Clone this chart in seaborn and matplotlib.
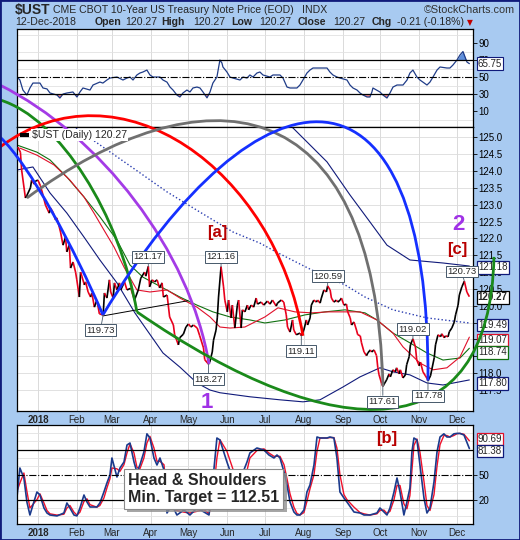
import matplotlib
matplotlib.use("Agg")
import matplotlib.pyplot as plt
import matplotlib.patheffects as pe
from matplotlib.collections import LineCollection
from matplotlib.path import Path
from matplotlib.patches import PathPatch, Rectangle
import numpy as np
import pandas as pd
import seaborn as sns

# all x values are days counted from 1 Jan 2018
close_pts = [(-16, 124.71), (-14, 124.56), (-13, 124.03), (-10, 123.20), (-9, 123.26), (-6, 123.50), (-5, 123.73),
             (-3, 123.61), (-2, 123.70), (0, 123.73), (2, 123.56), (4, 123.29), (6, 122.99), (9, 122.75), (10, 122.90),
             (12, 122.78), (14, 122.55), (15, 122.61), (17, 122.34), (18, 122.19), (20, 121.80), (22, 122.04),
             (23, 121.60), (25, 121.80), (26, 121.12), (28, 121.30), (30, 121.00), (31, 120.77), (33, 120.26),
             (34, 121.00), (35, 120.88), (37, 120.62), (38, 120.71), (40, 120.41), (42, 120.26), (43, 120.38),
             (45, 119.96), (47, 120.17), (49, 119.76), (52, 119.73), (53, 120.38), (55, 120.23), (57, 120.77),
             (58, 120.41), (60, 120.23), (61, 120.68), (63, 120.47), (65, 120.68), (66, 120.47), (69, 120.71),
             (71, 120.47), (74, 120.52), (77, 120.17), (80, 120.47), (82, 120.82), (85, 121.00), (86, 120.88),
             (88, 121.17), (89, 120.56), (91, 120.77), (93, 120.71), (95, 120.77), (97, 120.53), (99, 120.68),
             (100, 120.26), (103, 120.32), (105, 119.67), (108, 119.43), (109, 119.14), (112, 118.84), (113, 119.05),
             (116, 119.16), (118, 119.37), (120, 119.46), (122, 119.37), (124, 119.43), (127, 119.34), (129, 119.11),
             (132, 118.75), (133, 118.40), (136, 118.27), (137, 118.33), (139, 118.63), (140, 118.98), (142, 119.28),
             (143, 119.64), (144, 120.26), (146, 121.16), (148, 120.56), (149, 120.17), (151, 119.82), (152, 120.17),
             (154, 119.64), (155, 120.02), (157, 119.34), (159, 120.02), (160, 120.17), (162, 119.34), (163, 119.88),
             (165, 119.82), (167, 120.02), (168, 119.88), (170, 120.02), (172, 119.96), (174, 120.23), (175, 120.05),
             (178, 120.11), (180, 120.02), (183, 120.14), (185, 120.05), (187, 120.17), (190, 119.99), (191, 120.08),
             (194, 120.17), (196, 120.11), (198, 119.73), (199, 119.37), (201, 119.22), (203, 119.58), (204, 119.28),
             (206, 119.14), (209, 119.19), (210, 119.11), (212, 119.28), (214, 119.58), (215, 119.43), (217, 119.64),
             (218, 120.02), (220, 120.17), (222, 120.11), (223, 120.17), (225, 120.08), (226, 120.23), (228, 120.47),
             (230, 120.41), (231, 120.59), (233, 120.47), (234, 120.23), (236, 120.11), (238, 120.17), (239, 120.11),
             (241, 120.17), (242, 120.23), (244, 120.02), (246, 120.05), (247, 119.82), (249, 119.64), (250, 119.43),
             (252, 119.52), (254, 119.28), (255, 119.14), (257, 119.11), (258, 118.90), (260, 118.63), (262, 118.52),
             (263, 118.60), (265, 118.69), (266, 118.63), (268, 118.69), (270, 118.52), (271, 118.16), (272, 117.95),
             (274, 117.70), (275, 117.61), (278, 117.80), (280, 117.98), (281, 117.89), (283, 118.10), (285, 118.04),
             (286, 118.16), (288, 117.98), (289, 118.10), (291, 117.86), (293, 117.95), (294, 118.25), (296, 118.49),
             (297, 118.84), (299, 119.02), (301, 118.78), (302, 118.40), (304, 118.22), (305, 118.33), (307, 118.04),
             (309, 117.92), (310, 117.86), (311, 117.78), (313, 117.92), (314, 118.10), (316, 118.46), (317, 118.84),
             (319, 119.14), (321, 119.08), (322, 119.17), (324, 119.05), (325, 119.11), (327, 119.08), (328, 119.23),
             (330, 119.34), (332, 119.52), (333, 119.73), (335, 120.02), (336, 120.32), (338, 120.56), (340, 120.73),
             (342, 120.41), (344, 120.27)]
swing_highs = [88, 146, 231, 299, 340]
swing_lows = [52, 136, 210, 275, 311]

ma_red = [(-14.4, 124.68), (-0.8, 124.47), (12.8, 124.18), (25.5, 123.73), (36.7, 123.23), (44.7, 122.75),
          (52.6, 122.25), (60.6, 121.75), (68.6, 121.15), (78.9, 120.47), (89.3, 120.41), (102.9, 120.47),
          (113.2, 120.23), (126.8, 119.96), (137.2, 119.67), (145.1, 119.37), (153.1, 119.34), (165.0, 119.37),
          (181.0, 119.67), (191.4, 119.94), (204.9, 119.82), (218.5, 119.79), (231.2, 119.82), (244.8, 119.82),
          (256.8, 119.82), (270.3, 119.58), (283.1, 119.19), (291.1, 118.78), (304.6, 118.30), (315.0, 118.10),
          (326.1, 118.16), (336.5, 118.48), (344.0, 119.07)]
ma_green = [(-16.7, 124.77), (-0.8, 124.56), (9.6, 124.33), (23.1, 123.82), (36.7, 123.23), (49.4, 122.64),
            (63.0, 121.95), (73.4, 121.21), (83.7, 120.85), (99.7, 120.53), (113.2, 120.26), (126.8, 120.02),
            (139.5, 119.82), (153.1, 119.67), (169.0, 119.58), (181.0, 119.49), (197.0, 119.58), (212.9, 119.73),
            (228.9, 119.82), (244.8, 119.88), (260.8, 119.79), (270.3, 119.58), (283.1, 119.19), (296.6, 118.90),
            (310.2, 118.60), (323.0, 118.39), (336.5, 118.45), (344.0, 118.74)]
band_low = [(-16.7, 124.03), (-4.0, 124.12), (9.6, 123.35), (23.1, 122.75), (36.7, 122.04), (49.4, 121.36),
            (63.0, 120.68), (77.3, 119.79), (99.7, 118.60), (113.2, 118.18), (126.8, 117.71), (137.2, 117.50),
            (145.1, 117.42), (169.0, 117.30), (193.0, 117.21), (211.3, 117.15), (224.9, 117.21), (243.2, 117.59),
            (256.8, 117.89), (272.7, 118.16), (283.1, 118.04), (296.6, 117.95), (310.2, 117.71), (323.0, 117.65),
            (344.0, 117.80)]
band_up = [(189.0, 125.57), (203.3, 125.28), (230.5, 124.27), (248.8, 123.29), (264.7, 122.49), (278.3, 121.80),
           (296.6, 121.36), (323.0, 121.27), (344.0, 121.18)]
ma_dotted = [(25.5, 125.39), (41.5, 124.98), (75.8, 124.09), (102.9, 123.38), (129.2, 122.78), (155.5, 122.19),
             (177.0, 121.86), (191.4, 121.57), (218.5, 121.06), (244.8, 120.62), (260.8, 120.26), (283.1, 119.88),
             (310.2, 119.64), (344.0, 119.49)]

# cycle arcs: start, two control points, end (cubic curves)
arcs = {
    "#a43be6": [(-30.3, 126.55), (49.4, 125.07), (121.2, 121.66), (136.4, 118.27)],
    "#1a8a1a": [(-30.3, 126.11), (17.5, 125.57), (65.4, 122.69), (78.9, 119.82)],
    "#ff0000": [(-30.3, 124.71), (65.4, 127.35), (189.0, 124.03), (211.3, 119.11)],
    "#707070": [(-8.8, 123.20), (129.2, 126.99), (268.7, 126.70), (275.1, 117.62)],
    "#1530ff": [(-30.3, 125.01), (-6.4, 124.18), (29.5, 121.66), (51.8, 119.73)],
}
arc_blue2 = [(51.8, 119.73), (177.0, 127.47), (312.6, 127.89), (311.0, 117.78)]
arc_bowl = [(78.9, 119.82), (238.4, 115.72), (360.4, 115.72), (363.6, 121.45)]
neckline = [(51.8, 119.70), (119.6, 120.15)]

rsi_pts = [(-16.7, 50), (-14.4, 46.5), (-12.0, 34.7), (-8.8, 28.8), (-6.4, 37.1), (-4.0, 42.9), (1.6, 42.9),
           (4.0, 37.1), (7.2, 36), (9.6, 31.2), (15.2, 28.8), (17.5, 25.3), (20.0, 30), (23.1, 31.2), (27.9, 32.4),
           (31.1, 26.5), (33.5, 32.4), (35.9, 37.1), (41.5, 34.7), (43.9, 40.6), (49.4, 44.1), (51.8, 42.9),
           (55.0, 46.5), (57.4, 48.8), (63.0, 50), (67.8, 46.5), (71.0, 48.8), (73.4, 50), (75.8, 46.5), (78.9, 52.4),
           (81.3, 54.7), (83.7, 55.9), (86.9, 58.2), (89.3, 52.4), (91.7, 50), (97.3, 50), (99.7, 46.5), (102.9, 44),
           (105.3, 38.2), (107.7, 34.7), (110.8, 28.8), (113.2, 26.5), (115.6, 31.2), (118.8, 34.7), (121.2, 32.4),
           (123.6, 37.1), (126.8, 38.2), (129.2, 37.1), (131.6, 32.4), (134.8, 25.5), (137.2, 32.4), (139.5, 42.9),
           (142.7, 50), (145.1, 70), (146.7, 66.5), (147.5, 61.8), (150.7, 55.9), (153.1, 50), (155.5, 48.8),
           (161.1, 46.5), (163.5, 50), (166.7, 48.8), (169.0, 52.4), (171.5, 50), (174.6, 54.7), (177.0, 55.9),
           (179.4, 52.4), (185.0, 50), (187.4, 52.4), (193.0, 52.4), (195.4, 48.8), (198.6, 38.2), (201.0, 37.1),
           (206.5, 37.1), (208.9, 40.6), (211.3, 46.5), (214.5, 54.7), (216.9, 58.2), (219.3, 60.6), (224.9, 60.6),
           (230.5, 60.6), (232.8, 55.9), (235.2, 52.4), (238.4, 50), (240.8, 48.8), (246.4, 46.5), (248.8, 40.6),
           (251.2, 37.1), (254.4, 34.7), (256.8, 31.2), (259.2, 28.8), (262.4, 26.5), (264.7, 26.5), (266.3, 32.4),
           (267.1, 37.1), (272.7, 32.4), (275.1, 28.8), (278.3, 25.3), (280.7, 31.2), (283.1, 38.2), (286.3, 40.6),
           (291.1, 40.6), (294.3, 46.5), (296.6, 54.7), (299.0, 58.2), (302.2, 50), (304.6, 46.5), (310.2, 40.6),
           (312.6, 44.1), (315.0, 50), (318.2, 58.2), (320.6, 61.8), (326.1, 60.6), (328.5, 60.6), (330.9, 64.1),
           (334.1, 70), (336.5, 75.9), (338.9, 80), (342.1, 67.6), (344.0, 65.75)]

sto_day = [-16.7, -14.4, -11.2, -8.8, -6.4, -0.8, 1.6, 4.8, 7.2, 9.6, 15.2, 20.7, 23.1, 25.5, 28.7, 31.1, 33.5,
           36.7, 39.1, 41.5, 47.0, 49.4, 52.6, 55.0, 57.4, 59.0, 63.0, 65.4, 68.6, 71.0, 73.4, 76.6, 78.9, 81.3,
           84.5, 86.9, 89.3, 92.5, 94.9, 97.3, 100.5, 102.9, 106.9, 110.8, 116.4, 121.2, 126.8, 132.4, 136.4,
           139.5, 142.7, 145.1, 150.7, 156.3, 161.1, 166.7, 169.0, 174.6, 180.2, 184.2, 188.2, 190.6, 193.0,
           196.2, 198.6, 201.0, 204.1, 206.5, 208.9, 212.1, 214.5, 216.9, 220.1, 222.5, 224.9, 230.5, 232.8,
           236.0, 238.4, 240.8, 244.0, 246.4, 252.0, 256.8, 260.0, 264.7, 270.3, 272.7, 275.9, 278.3, 280.7,
           283.9, 286.3, 288.7, 291.8, 294.2, 296.6, 298.2, 299.8, 302.2, 304.6, 307.8, 310.2, 312.6, 315.8,
           318.2, 320.6, 323.7, 326.1, 328.5, 331.7, 334.1, 336.5, 339.7, 344.0]
sto_k = [23.2, 58, 46, 17.2, 1.6, 29.2, 25.6, 10, 4, 1.6, 0.5, 4, 16, 10, 1.6, 0.5, 10, 25.6, 17.2, 11.2, 11.2, 16,
         29.2, 40, 49.6, 70, 47.2, 58, 65.2, 85.6, 88, 65.2, 53.2, 61.6, 77.2, 99, 94, 70, 61.6, 70, 55.6, 4, 13.6,
         1.6, 7.6, 1.6, 10, 5.2, 1.6, 43.6, 94, 91.6, 65.2, 41.2, 43.6, 65.2, 76, 82, 79.6, 73.6, 70, 73.6, 70, 53.2,
         37.6, 17.2, 5.2, 1.6, 1.6, 7.6, 29.2, 37.6, 61.6, 95.2, 94, 94, 95.2, 94, 70, 29.2, 22, 17.2, 5.2, 4, 1.6,
         1.6, 4, 10, 5.2, 1.6, 10, 29.2, 46, 29.2, 1.6, 17.2, 34, 77.2, 94, 91.6, 61.6, 22, 4, 10, 41.2, 77.2, 95.2,
         99, 95.2, 95.2, 99, 99.5, 99.5, 97.6, 81.38]
sto_d = [30, 40, 52, 30, 10, 20, 27, 16, 7, 3, 1.5, 2.5, 10, 13, 5, 1.5, 5, 18, 21, 14, 11, 13, 22, 34, 45, 58, 57,
         54, 62, 76, 87, 76, 59, 57, 70, 88, 96, 82, 66, 66, 62, 25, 9, 7, 5, 4, 6, 8, 3, 22, 70, 92, 78, 53, 43, 55,
         70, 79, 81, 76, 72, 72, 72, 62, 45, 27, 11, 3.5, 1.6, 4.5, 18, 33, 50, 78, 94, 94, 94.5, 94.5, 82, 50, 26,
         20, 11, 4.5, 3, 1.6, 3, 7, 7.5, 3.5, 6, 20, 37, 37, 15, 9, 25, 55, 85, 92.8, 77, 42, 13, 7, 26, 60, 86, 97,
         97, 95.2, 97, 99.2, 99.5, 98.5, 90.69]

month_start = pd.date_range("2018-01-01", "2018-12-01", freq="MS")
month_days = list((month_start - pd.Timestamp("2018-01-01")).days)
month_names = ["2018"] + [m.strftime("%b") for m in month_start[1:]]

BG = "#a8caf1"
NAVY = "#101a7a"
sns.set_style("white")
plt.rcParams["font.family"] = ["Liberation Sans", "DejaVu Sans"]

W, H = 520, 540
fig = plt.figure(figsize=(W / 100, H / 100), dpi=100, facecolor=BG)
L, R = 17 / W, 473 / W


def panel(top, bottom):
    return fig.add_axes([L, 1 - bottom / H, R - L, (bottom - top) / H])


def ftext(x, y, s, **kw):
    return fig.text(x / W, 1 - y / H, s, va="baseline", **kw)


ax_r = panel(29, 127)
ax_p = panel(127, 411)
ax_s = panel(425, 524)
xlim = (-16.7, 346.9)

for ax in (ax_r, ax_p, ax_s):
    ax.set_facecolor("white")
    ax.set_xlim(*xlim)
    ax.set_xticks(month_days)
    ax.grid(True, axis="x", color="#d4d4d4", lw=0.6)
    ax.yaxis.tick_right()
    ax.tick_params(axis="y", which="major", length=3, width=0.6, pad=1, labelsize=7, colors="black")
    ax.tick_params(axis="x", length=0, labelsize=7, pad=3)
    for sp in ax.spines.values():
        sp.set_color("black")
        sp.set_linewidth(0.9)

# ---- RSI panel
rd, rv = zip(*rsi_pts)
rd, rv = np.array(rd), np.array(rv)
ax_r.fill_between(rd, rv, 70, where=rv > 70, interpolate=True, color="#5f8fdc", lw=0)
ax_r.fill_between(rd, rv, 30, where=rv < 30, interpolate=True, color="#f08a8a", lw=0)
sns.lineplot(x=rd, y=rv, ax=ax_r, color="#1f3c88", linewidth=0.9, sort=False, estimator=None)
for lvl in (70, 30):
    ax_r.axhline(lvl, color="black", lw=0.9)
ax_r.axhline(50, color="black", lw=0.8, ls="-.")
ax_r.set_ylim(-8.8, 106.5)
ax_r.set_yticks([10, 30, 50, 70, 90])
ax_r.set_yticks(range(0, 101, 10), minor=True)
ax_r.grid(True, axis="y", which="minor", color="#e2e2e2", lw=0.6)
ax_r.tick_params(axis="y", which="minor", length=0)
ax_r.set_xticklabels([])
ax_r.annotate(f"{rv[-1]:.2f}", xy=(1, rv[-1]), xycoords=ax_r.get_yaxis_transform(), xytext=(3.5, 0),
              textcoords="offset points", ha="left", va="center", fontsize=7,
              bbox=dict(boxstyle="square,pad=0.12", fc="white", ec=NAVY, lw=0.8))

# ---- price panel
cd, cv = zip(*close_pts)
cd, cv = np.array(cd, float), np.array(cv)
close_at = dict(close_pts)
segs = np.stack([np.column_stack([cd[:-1], cv[:-1]]), np.column_stack([cd[1:], cv[1:]])], axis=1)
seg_col = np.where(np.diff(cv) >= 0, "black", "#e8001c")

for pts, col, ls, lw in [(band_up, NAVY, "-", 0.8), (band_low, NAVY, "-", 0.8), (ma_dotted, "#2a3db0", ":", 1.0),
                         (ma_green, "#107010", "-", 0.8), (ma_red, "#e0102a", "-", 0.8)]:
    xs, ys = zip(*pts)
    sns.lineplot(x=list(xs), y=list(ys), ax=ax_p, color=col, linewidth=lw, linestyle=ls, sort=False,
                 estimator=None)
ax_p.add_collection(LineCollection(segs, colors=seg_col, linewidths=1.2, zorder=4))
nx, ny = zip(*neckline)
ax_p.plot(nx, ny, color="black", lw=0.7, zorder=4)

ax_p.set_ylim(116.878, 125.306)
ticks = np.arange(117.5, 125.01, 0.5)
ax_p.set_yticks(ticks)
ax_p.set_yticklabels([f"{t:.1f}" for t in ticks])
ax_p.grid(True, axis="y", color="#dcdcdc", lw=0.6)
ax_p.set_xticklabels(month_names)
ax_p.get_xticklabels()[0].set_fontweight("bold")
ax_p.set_xlabel("")
ax_p.set_ylabel("")


def curve(pts, color, lw=2.0):
    path = Path(pts, [Path.MOVETO, Path.CURVE4, Path.CURVE4, Path.CURVE4])
    ax_p.add_patch(PathPatch(path, fill=False, ec=color, lw=lw, clip_on=False, zorder=6,
                             capstyle="butt", transform=ax_p.transData))


for col, pts in arcs.items():
    curve(pts, col)
curve(arc_blue2, "#1530ff")
curve(arc_bowl, "#1a8a1a")

lab_box = dict(boxstyle="square,pad=0.15", fc="white", ec="#46586a", lw=0.7)
for d in swing_highs:
    dx = -2 if d == 340 else 0
    ax_p.annotate(f"{close_at[d]:.2f}", xy=(d, close_at[d]), xytext=(dx, 7), textcoords="offset points",
                  ha="center", va="center", fontsize=6.8, bbox=lab_box, zorder=7,
                  arrowprops=dict(arrowstyle="-", color="#46586a", lw=0.6, shrinkA=0, shrinkB=0))
for d in swing_lows:
    dx = -2 if d == 52 else 0
    ax_p.annotate(f"{close_at[d]:.2f}", xy=(d, close_at[d]), xytext=(dx, -11), textcoords="offset points",
                  ha="center", va="center", fontsize=6.8, bbox=lab_box, zorder=7,
                  arrowprops=dict(arrowstyle="-", color="#46586a", lw=0.6, shrinkA=0, shrinkB=0))

tags = [(band_up[-1][1], NAVY, "normal", -1), (cv[-1], "black", "bold", -0.5), (ma_dotted[-1][1], NAVY, "normal", -1.5),
        (ma_red[-1][1], "#e0102a", "normal", -2), (ma_green[-1][1], "#107010", "normal", -3),
        (band_low[-1][1], NAVY, "normal", -2.5)]
for val, col, fw, dy in tags:
    ax_p.annotate(f"{val:.2f}", xy=(1, val), xycoords=ax_p.get_yaxis_transform(), xytext=(3.5, dy),
                  textcoords="offset points", ha="left", va="center", fontsize=7, fontweight=fw, zorder=5,
                  bbox=dict(boxstyle="square,pad=0.12", fc="white", ec=col, lw=0.9))

ax_p.plot([0.007, 0.026], [0.973, 0.973], transform=ax_p.transAxes, color="black", lw=3, zorder=8,
          solid_capstyle="butt")
ax_p.text(0.033, 0.973, f"$UST (Daily) {cv[-1]:.2f}", transform=ax_p.transAxes, fontsize=7.6, va="center",
          ha="left", zorder=8, bbox=dict(boxstyle="square,pad=0.1", fc="white", ec="none"))
ax_p.text(142.7, 122.19, "[a]", color="#b80000", fontsize=12, fontweight="bold", ha="center", va="center", zorder=8)
ax_p.text(334.1, 121.66, "[c]", color="#b80000", fontsize=12, fontweight="bold", ha="center", va="center", zorder=8)
ax_p.text(334.9, 122.40, "2", color="#a032e6", fontsize=16, fontweight="bold", ha="center", va="center", zorder=8)
ax_p.text(134.8, 117.12, "1", color="#a032e6", fontsize=16, fontweight="bold", ha="center", va="center", zorder=8,
          clip_on=False)

# ---- stochastic panel
sns.lineplot(x=sto_day, y=sto_d, ax=ax_s, color="#f0102a", linewidth=1.0, sort=False, estimator=None)
sns.lineplot(x=sto_day, y=sto_k, ax=ax_s, color="#1b3a8c", linewidth=1.2, sort=False, estimator=None)
for lvl in (80, 20):
    ax_s.axhline(lvl, color="black", lw=0.9)
ax_s.axhline(50, color="black", lw=0.8, ls="-.")
ax_s.set_ylim(-9.2, 109.6)
ax_s.set_yticks([20, 50])
ax_s.set_yticks(range(0, 101, 10), minor=True)
ax_s.grid(True, axis="y", which="minor", color="#e2e2e2", lw=0.6)
ax_s.tick_params(axis="y", which="minor", length=0)
ax_s.set_xticklabels(month_names)
ax_s.get_xticklabels()[0].set_fontweight("bold")
ax_s.set_xlabel("")
ax_s.set_ylabel("")
ax_s.text(278.3, 94, "[b]", color="#b80000", fontsize=12, fontweight="bold", ha="center", va="center")
for val, col, dy in [(sto_d[-1], "#e0102a", 1.5), (sto_k[-1], NAVY, -1.5)]:
    ax_s.annotate(f"{val:.2f}", xy=(1, val), xycoords=ax_s.get_yaxis_transform(), xytext=(3.5, dy),
                  textcoords="offset points", ha="left", va="center", fontsize=7, zorder=5,
                  bbox=dict(boxstyle="square,pad=0.1", fc="white", ec=col, lw=0.9))

hs = fig.text(128 / W, 1 - 489 / H, "Head & Shoulders\nMin. Target = 112.51", fontsize=11.5, fontweight="bold",
              ha="left", va="center", linespacing=1.1,
              bbox=dict(boxstyle="square,pad=0.25", fc="white", ec="#8a8a8a", lw=0.8))
hs.get_bbox_patch().set_path_effects([pe.withSimplePatchShadow(offset=(2.5, -2.5), shadow_rgbFace="#909090",
                                                                alpha=0.8)])

# ---- header
ftext(15, 14, "$UST", fontsize=10, fontweight="bold")
ftext(53, 13, "CME CBOT 10-Year US Treasury Note Price (EOD)", fontsize=7.6)
ftext(302, 13, "INDX", fontsize=7.6)
ftext(515, 13, "\u00a9StockCharts.com", fontsize=7.8, ha="right", color="#333333")
ftext(15, 25, "12-Dec-2018", fontsize=7.6)
last = f"{cv[-1]:.2f}"
for x, s, fw in [(95, "Open", "bold"), (125, last, "normal"), (161, "High", "bold"), (193, last, "normal"),
                 (231, "Low", "bold"), (259, last, "normal"), (298, "Close", "bold"), (333, last, "normal"),
                 (372, "Chg", "bold"), (397, "-0.21 (-0.18%)", "normal")]:
    ftext(x, 25, s, fontsize=7.6, fontweight=fw)
ftext(467, 25, "\u25bc", fontsize=5.5, color="#c00000", family="DejaVu Sans")

fig.add_artist(Rectangle((0, 0), 1, 1, transform=fig.transFigure, fill=False, ec=NAVY, lw=2))

fig.savefig("out.png", dpi=100, facecolor=BG)
